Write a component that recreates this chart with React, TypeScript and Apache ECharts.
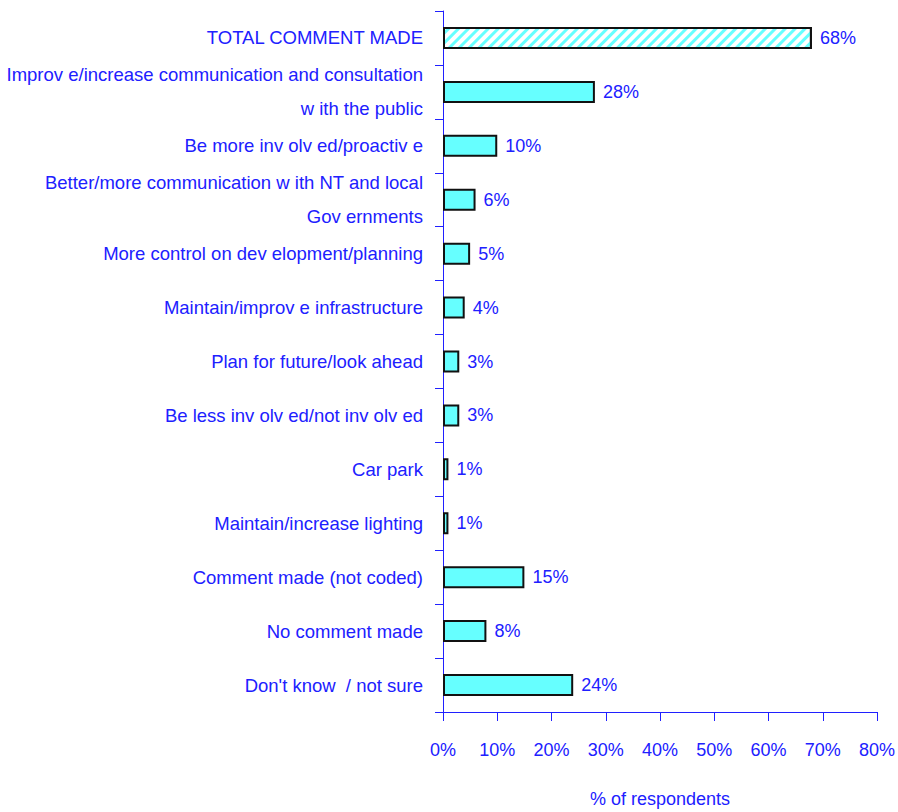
import React, { useEffect, useRef } from "react";
import * as echarts from "echarts";

const categories = [
  "TOTAL COMMENT MADE",
  "Improv e/increase communication and consultation\nw ith the public",
  "Be more inv olv ed/proactiv e",
  "Better/more communication w ith NT and local\nGov ernments",
  "More control on dev elopment/planning",
  "Maintain/improv e infrastructure",
  "Plan for future/look ahead",
  "Be less inv olv ed/not inv olv ed",
  "Car park",
  "Maintain/increase lighting",
  "Comment made (not coded)",
  "No comment made",
  "Don't know  / not sure",
];
const values = [68, 28, 10, 6, 5, 4, 3, 3, 1, 1, 15, 8, 24];
const xTicks = { min: 0, max: 80, interval: 10 };

const BLUE = "#2020ff";
const FONT = "'Liberation Sans', Arial, sans-serif";

export default function App() {
  const ref = useRef<HTMLDivElement>(null);
  useEffect(() => {
    if (!ref.current) return;
    const chart = echarts.init(ref.current, undefined, { renderer: "svg" });
    chart.setOption({
      animation: false,
      grid: { left: 443, right: 21, top: 11, bottom: 100, containLabel: false, outerBoundsMode: "none" },
      xAxis: {
        type: "value",
        min: xTicks.min,
        max: xTicks.max,
        interval: xTicks.interval,
        name: "% of respondents",
        nameLocation: "middle",
        nameGap: 78,
        nameTextStyle: { color: BLUE, fontSize: 18, fontFamily: FONT },
        axisLine: { show: true, lineStyle: { color: BLUE, width: 1 } },
        axisTick: { show: true, length: 9, lineStyle: { color: BLUE } },
        axisLabel: { color: BLUE, fontSize: 18, fontFamily: FONT, margin: 29, formatter: "{value}%" },
        splitLine: { show: false },
      },
      yAxis: {
        type: "category",
        data: categories,
        inverse: true,
        axisLine: { show: true, lineStyle: { color: BLUE, width: 1 } },
        axisTick: { show: true, length: 8, lineStyle: { color: BLUE } },
        axisLabel: {
          color: BLUE,
          fontSize: 18.5,
          fontFamily: FONT,
          margin: 20,
          lineHeight: 34,
          align: "right",
          interval: 0,
        },
      },
      series: [
        {
          type: "bar",
          barWidth: 22,
          data: values.map((v, i) =>
            i === 0
              ? {
                  value: v,
                  itemStyle: {
                    color: "#ffffff",
                    decal: {
                      symbol: "rect",
                      symbolSize: 1,
                      dashArrayX: [1, 0],
                      dashArrayY: [3, 4],
                      rotation: -Math.PI / 4,
                      color: "#66ffff",
                      backgroundColor: "#ffffff",
                    },
                  },
                }
              : v
          ),
          itemStyle: { color: "#66ffff", borderColor: "#111111", borderWidth: 2 },
          label: {
            show: true,
            position: "right",
            distance: 8,
            color: BLUE,
            fontSize: 18,
            fontFamily: FONT,
            formatter: "{c}%",
          },
        },
      ],
    });
    return () => chart.dispose();
  }, []);
  return (
    <div
      ref={ref}
      style={{ position: "fixed", left: 0, top: 0, width: 898, height: 812, background: "#ffffff" }}
    />
  );
}
